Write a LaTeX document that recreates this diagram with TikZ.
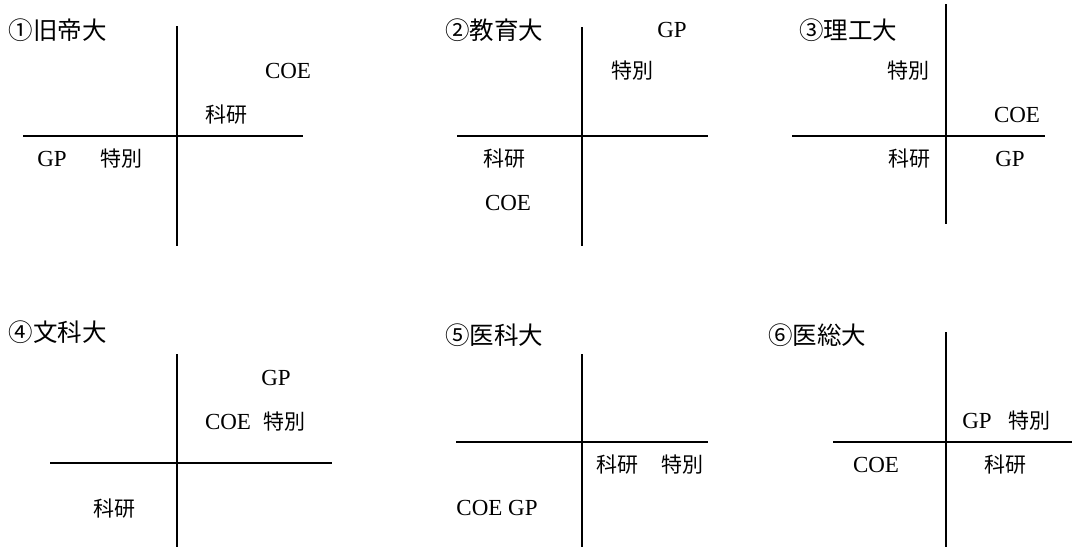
\documentclass[tikz,border=0pt]{standalone}
\usepackage{fontspec}
\setmainfont{Liberation Serif}
\newfontfamily\jpfont{Noto Sans CJK JP}
\begin{document}
\begin{tikzpicture}[x=1pt,y=-1pt,
  lat/.style={inner sep=0pt,font=\fontsize{23}{26}\selectfont},
  jp/.style={inner sep=0pt,font=\jpfont\fontsize{21}{24}\selectfont},
  ttl/.style={inner sep=0pt,font=\jpfont\fontsize{24.5}{28}\selectfont},
  axis/.style={line width=2pt,black}]
\useasboundingbox (0,0) rectangle (1072,547);
% Panel 1
\node[ttl] (t1) at (58,30) {①旧帝大};
\coordinate (v1a) at (177,26); \coordinate (v1b) at (177,246);
\coordinate (h1a) at (23,136); \coordinate (h1b) at (303,136);
\draw[axis] (v1a) -- (v1b); \draw[axis] (h1a) -- (h1b);
\node[lat] (coe1) at (288,71) {COE};
\node[jp] (ka1) at (226,115) {科研};
\node[lat] (gp1) at (52,159) {GP};
\node[jp] (to1) at (121,159) {特別};
% Panel 2
\node[ttl] (t2) at (494,30) {②教育大};
\coordinate (v2a) at (582,27); \coordinate (v2b) at (582,246);
\coordinate (h2a) at (457,136); \coordinate (h2b) at (708,136);
\draw[axis] (v2a) -- (v2b); \draw[axis] (h2a) -- (h2b);
\node[lat] (gp2) at (672,30) {GP};
\node[jp] (to2) at (632,71) {特別};
\node[jp] (ka2) at (504,159) {科研};
\node[lat] (coe2) at (508,203) {COE};
% Panel 3
\node[ttl] (t3) at (848,30) {③理工大};
\coordinate (v3a) at (946,4); \coordinate (v3b) at (946,224);
\coordinate (h3a) at (792,136); \coordinate (h3b) at (1045,136);
\draw[axis] (v3a) -- (v3b); \draw[axis] (h3a) -- (h3b);
\node[jp] (to3) at (908,71) {特別};
\node[lat] (coe3) at (1017,115) {COE};
\node[jp] (ka3) at (909,159) {科研};
\node[lat] (gp3) at (1010,159) {GP};
% Panel 4
\node[ttl] (t4) at (58,332) {④文科大};
\coordinate (v4a) at (177,354); \coordinate (v4b) at (177,547);
\coordinate (h4a) at (50,463); \coordinate (h4b) at (332,463);
\draw[axis] (v4a) -- (v4b); \draw[axis] (h4a) -- (h4b);
\node[lat] (gp4) at (276,378) {GP};
\node[lat] (coe4) at (228,422) {COE};
\node[jp] (to4) at (284,422) {特別};
\node[jp] (ka4) at (114,509) {科研};
% Panel 5
\node[ttl] (t5) at (494,335) {⑤医科大};
\coordinate (v5a) at (582,354); \coordinate (v5b) at (582,547);
\coordinate (h5a) at (456,442); \coordinate (h5b) at (708,442);
\draw[axis] (v5a) -- (v5b); \draw[axis] (h5a) -- (h5b);
\node[jp] (ka5) at (617,465) {科研};
\node[jp] (to5) at (682,465) {特別};
\node[lat] (cg5) at (497,508) {COE GP};
% Panel 6
\node[ttl] (t6) at (817,335) {⑥医総大};
\coordinate (v6a) at (946,332); \coordinate (v6b) at (946,547);
\coordinate (h6a) at (833,442); \coordinate (h6b) at (1072,442);
\draw[axis] (v6a) -- (v6b); \draw[axis] (h6a) -- (h6b);
\node[lat] (gp6) at (977,421) {GP};
\node[jp] (to6) at (1029,421) {特別};
\node[lat] (coe6) at (876,465) {COE};
\node[jp] (ka6) at (1005,465) {科研};
\end{tikzpicture}
\end{document}
